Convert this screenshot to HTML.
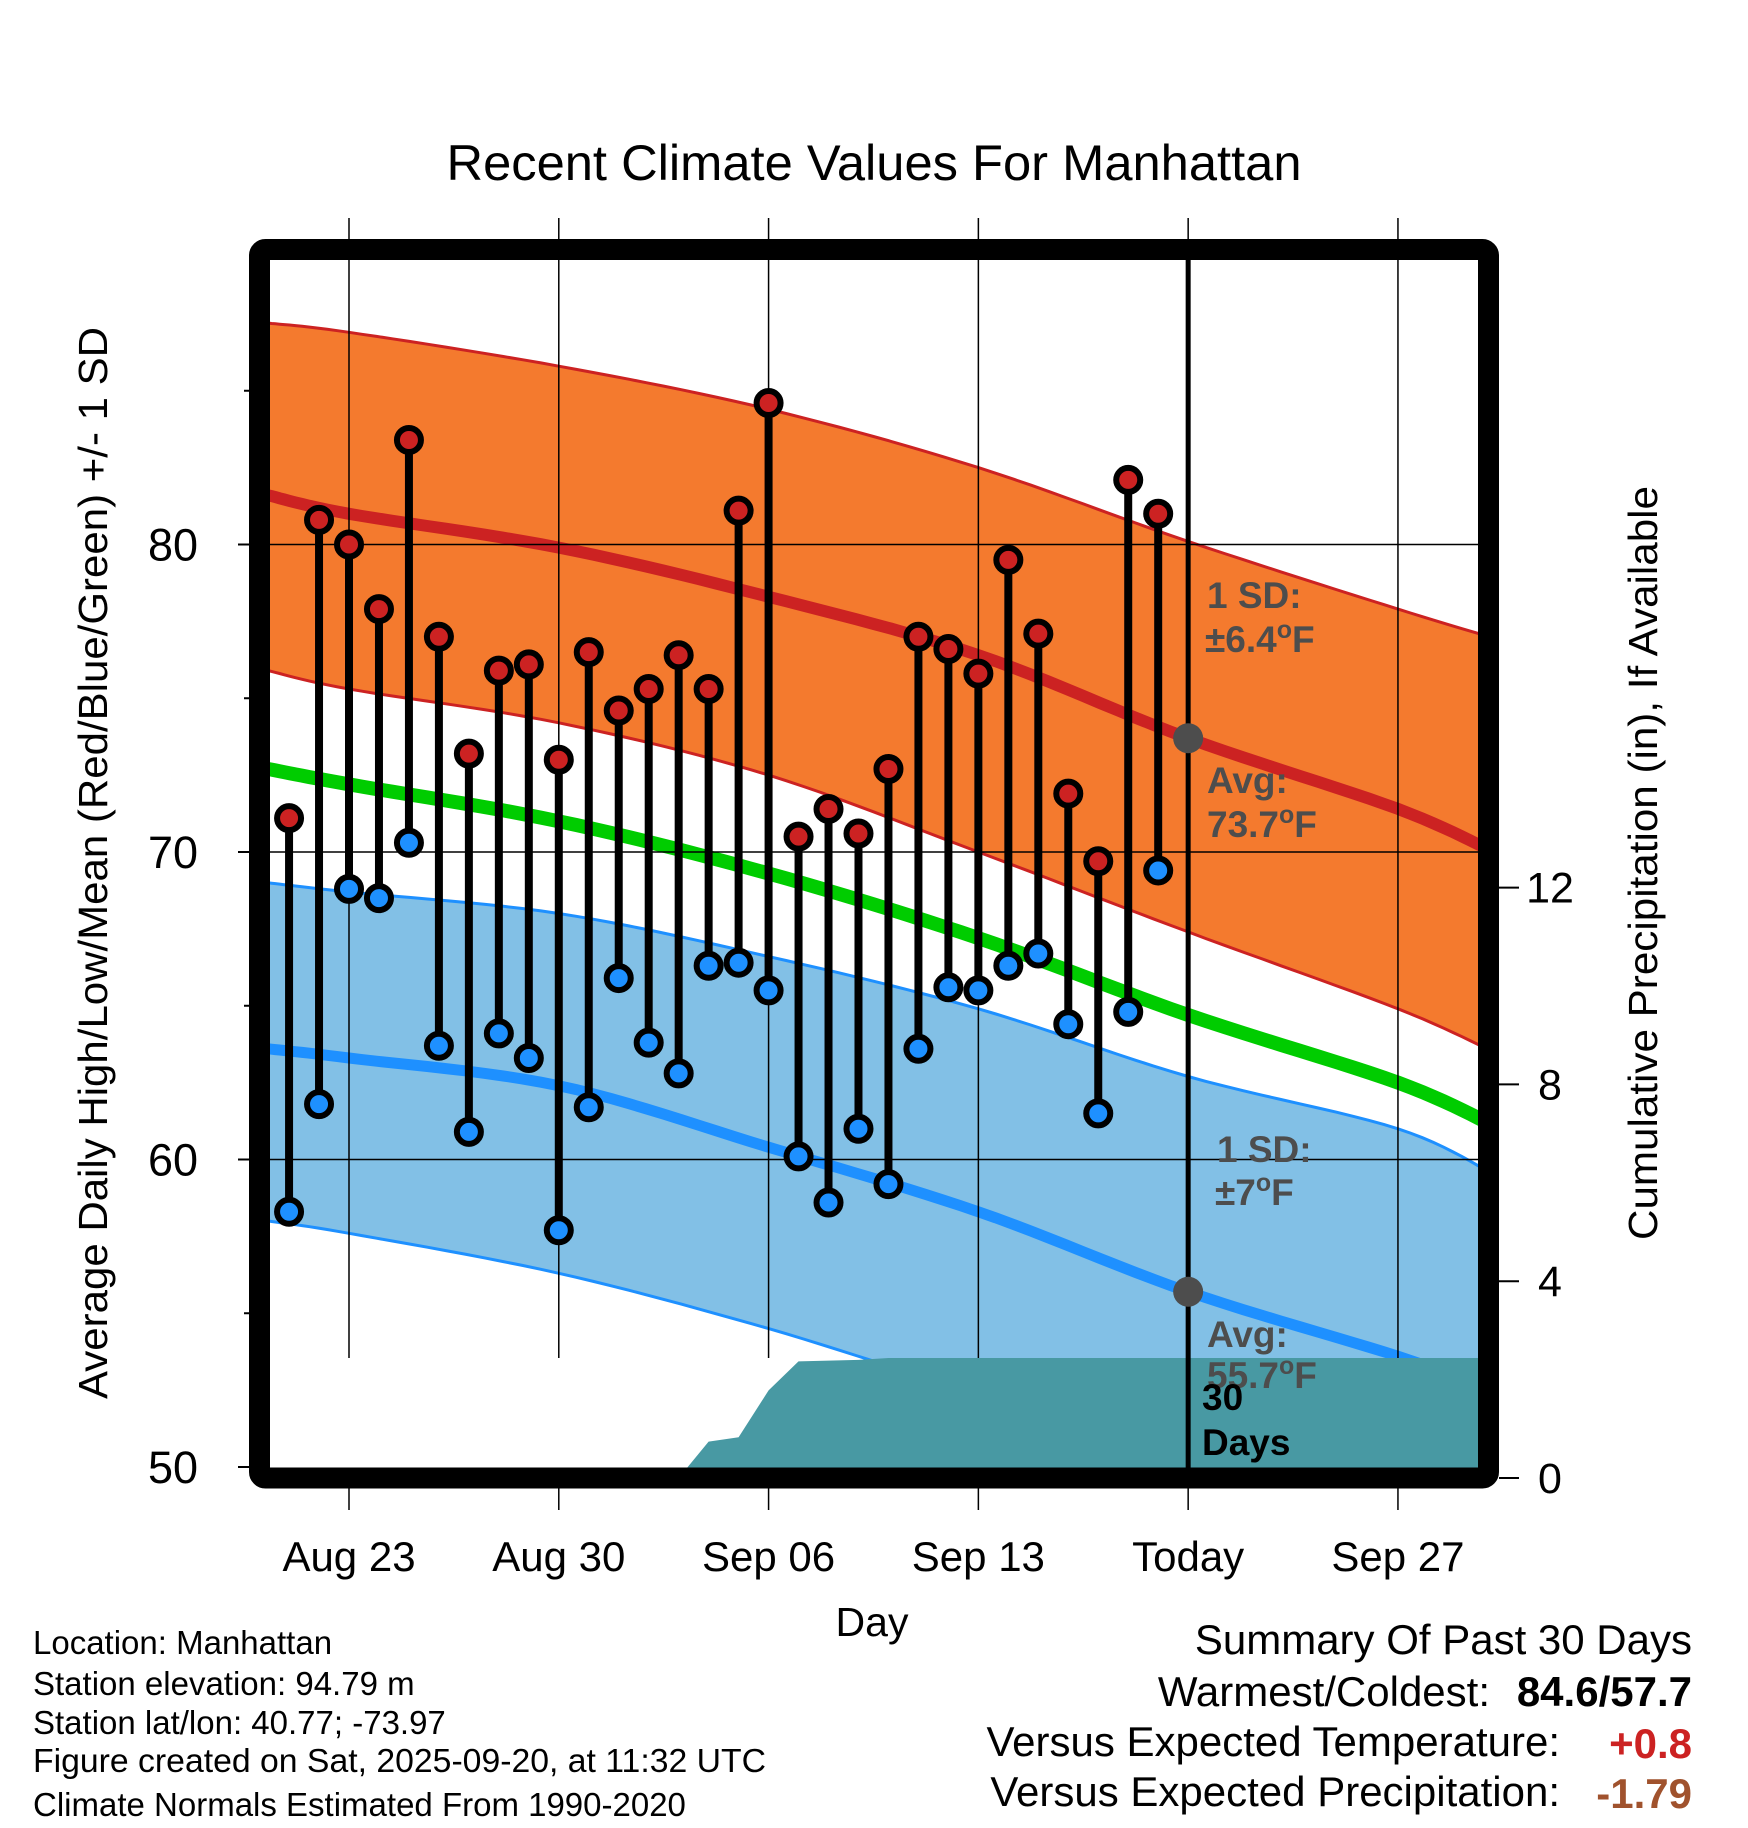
<!DOCTYPE html>
<html><head><meta charset="utf-8"><style>
html,body{margin:0;padding:0;background:#fff;}
svg{display:block;font-family:"Liberation Sans",Arial,sans-serif;}
</style></head><body>
<svg id="chart" width="1748" height="1828" viewBox="0 0 1748 1828" xmlns="http://www.w3.org/2000/svg">
<defs><clipPath id="plotclip"><rect x="270" y="260" width="1208" height="1208"/></clipPath></defs>
<text x="874" y="180" font-size="50" text-anchor="middle" textLength="855" lengthAdjust="spacingAndGlyphs">Recent Climate Values For Manhattan</text>
<g id="plot" clip-path="url(#plotclip)"></g>
<g id="over"></g>
</svg>
<script>
// ---- data ----
const dayLabels = ["Aug 23","Aug 30","Sep 06","Sep 13","Today","Sep 27"];
const dayTicks = [0,7,14,21,28,35]; // days from Aug 23
const obsDays = [-2,-1,0,1,2,3,4,5,6,7,8,9,10,11,12,13,14,15,16,17,18,19,20,21,22,23,24,25,26,27];
const highs = [71.1,80.8,80.0,77.9,83.4,77.0,73.2,75.9,76.1,73.0,76.5,74.6,75.3,76.4,75.3,81.1,84.6,70.5,71.4,70.6,72.7,77.0,76.6,75.8,79.5,77.1,71.9,69.7,82.1,81.0];
const lows = [58.3,61.8,68.8,68.5,70.3,63.7,60.9,64.1,63.3,57.7,61.7,65.9,63.8,62.8,66.3,66.4,65.5,60.1,58.6,61.0,59.2,63.6,65.6,65.5,66.3,66.7,64.4,61.5,64.8,69.4];
const normDays = [-2.7,0,7,14,21,28,35,38.4];
const hiUpper = [87.2,86.9,85.8,84.4,82.5,80.1,77.9,76.9];
const hiMean = [81.6,81.0,79.9,78.3,76.4,73.7,71.4,69.9];
const hiLower = [75.9,75.3,74.2,72.5,70.0,67.4,64.9,63.4];
const meanNorm = [72.7,72.2,71.0,69.3,67.2,64.7,62.5,61.0];
const loUpper = [69.0,68.7,68.0,66.6,64.9,62.7,61.0,59.4];
const loMean = [63.6,63.3,62.4,60.4,58.3,55.7,53.6,52.4];
const loLower = [58.0,57.6,56.3,54.5,52.4,50.7,49.4,48.8];
const precipDays = [-2.7,11,12,13,14,15,17,18,38.4];
const precipCum = [0,0,0.74,0.83,1.78,2.37,2.40,2.44,2.44];
const yTicks = [50,60,70,80];
const yMinor = [55,65,75,85];
const pTicks = [0,4,8,12];
// ---- scales ----
const X = d => 349 + d*29.97;
const Y = v => 1467 - (v-50)*30.75;
const YP = p => 1478 - p*49.2;
const NS="http://www.w3.org/2000/svg";
function mk(tag, parent, attrs){const e=document.createElementNS(NS,tag);for(const k in attrs)e.setAttribute(k,attrs[k]);parent.appendChild(e);return e;}
const plot=document.getElementById('plot'), over=document.getElementById('over');
// smooth (Catmull-Rom) sampling through the normal curve values
function smooth(days, vals){
  const P=days.map((d,i)=>[X(d),Y(vals[i])]);
  const out=[];
  for(let i=0;i<P.length-1;i++){
    const p0=P[Math.max(0,i-1)],p1=P[i],p2=P[i+1],p3=P[Math.min(P.length-1,i+2)];
    for(let k=0;k<12;k++){
      const t=k/12,t2=t*t,t3=t2*t;
      const f=(a,b,c,d)=>0.5*((2*b)+(-a+c)*t+(2*a-5*b+4*c-d)*t2+(-a+3*b-3*c+d)*t3);
      out.push(f(p0[0],p1[0],p2[0],p3[0]).toFixed(1)+','+f(p0[1],p1[1],p2[1],p3[1]).toFixed(1));
    }
  }
  const L=P[P.length-1];out.push(L[0].toFixed(1)+','+L[1].toFixed(1));
  return out;
}
function band(up,lo){return smooth(normDays,up).concat(smooth(normDays,lo).reverse()).join(' ');}
let e;
e=mk('polygon',plot,{points:band(hiUpper,hiLower),fill:'#f47a2e',stroke:'#cc2222','stroke-width':3});


e=mk('polygon',plot,{points:band(loUpper,loLower),fill:'#82c0e6',stroke:'#1e90ff','stroke-width':3});


e=mk('polyline',plot,{points:smooth(normDays,hiMean).join(' '),fill:'none',stroke:'#cc2222','stroke-width':12});


e=mk('polyline',plot,{points:smooth(normDays,meanNorm).join(' '),fill:'none',stroke:'#00cc00','stroke-width':14});


e=mk('polyline',plot,{points:smooth(normDays,loMean).join(' '),fill:'none',stroke:'#1e90ff','stroke-width':11});


// precip
let pp=precipDays.map((d,i)=>X(d).toFixed(1)+','+YP(precipCum[i]).toFixed(1));
pp.push(X(precipDays[precipDays.length-1]).toFixed(1)+','+YP(0));
pp.push(X(precipDays[0]).toFixed(1)+','+YP(0));
e=mk('polygon',plot,{points:pp.join(' '),fill:'#4899a3'});


// grid
const topP = YP(precipCum[precipCum.length-1]);
yTicks.slice(1).forEach(v=>{
  const g=mk('line',over,{x1:270,x2:1478,y1:Y(v),y2:Y(v),stroke:'#000','stroke-width':1.5});
  
  
});
dayTicks.forEach((d,i)=>{
  const isToday = dayLabels[i]==='Today';
  const g=mk('line',over,{x1:X(d),x2:X(d),y1:isToday?260:218,y2:isToday?1468:topP,stroke:'#000','stroke-width':isToday?5:1.5});
  
  
  if(isToday){
    const g2=mk('line',over,{x1:X(d),x2:X(d),y1:218,y2:250,stroke:'#000','stroke-width':1.5});
    
    
  }
  const t=mk('line',over,{x1:X(d),x2:X(d),y1:1480,y2:1510,stroke:'#000','stroke-width':1.5});
  
  
  const l=mk('text',over,{x:X(d),y:1571,'font-size':42,'text-anchor':'middle'});
  l.textContent=dayLabels[i];
  
  
});
obsDays.forEach((d,i)=>{
  const s=mk('line',over,{x1:X(d),x2:X(d),y1:Y(highs[i]),y2:Y(lows[i]),stroke:'#000','stroke-width':8});
  
  
});
obsDays.forEach((d,i)=>{
  const h=mk('circle',over,{cx:X(d),cy:Y(highs[i]),r:12,fill:'#cc2222',stroke:'#000','stroke-width':6});
  
  
  const l=mk('circle',over,{cx:X(d),cy:Y(lows[i]),r:12,fill:'#1e90ff',stroke:'#000','stroke-width':6});
  
  
});
e=mk('circle',over,{cx:X(28),cy:Y(hiMean[5]),r:15,fill:'#4d4d4d'});


e=mk('circle',over,{cx:X(28),cy:Y(loMean[5]),r:15,fill:'#4d4d4d'});


e=mk('rect',over,{x:259.5,y:249.5,width:1229,height:1228.5,fill:'none',stroke:'#000','stroke-width':21,rx:6});


yTicks.forEach(v=>{
  const t=mk('line',over,{x1:238,x2:250,y1:Y(v),y2:Y(v),stroke:'#000','stroke-width':2});
  
  
  const l=mk('text',over,{x:198,y:Y(v)+16,'font-size':45,'text-anchor':'end'});
  l.textContent=v;
  
  
});
yMinor.forEach(v=>{
  const t=mk('line',over,{x1:244,x2:250,y1:Y(v),y2:Y(v),stroke:'#000','stroke-width':2});
  
  
});
pTicks.forEach(p=>{
  const t=mk('line',over,{x1:1499,x2:1519,y1:YP(p),y2:YP(p),stroke:'#000','stroke-width':2});
  
  
  const l=mk('text',over,{x:1550,y:YP(p)+15,'font-size':43,'text-anchor':'middle'});
  l.textContent=p;
  
  
});
</script>
<svg style="position:absolute;left:0;top:0" width="1748" height="1828" font-family="Liberation Sans, Arial, sans-serif">
<text transform="translate(107,863) rotate(-90)" font-size="41" text-anchor="middle" textLength="1072" lengthAdjust="spacingAndGlyphs">Average Daily High/Low/Mean (Red/Blue/Green) +/- 1 SD</text>
<text transform="translate(1657,863) rotate(-90)" font-size="41" text-anchor="middle" textLength="754" lengthAdjust="spacingAndGlyphs">Cumulative Precipitation (in), If Available</text>
<text x="872" y="1636" font-size="41" text-anchor="middle">Day</text>
<g font-weight="bold" font-size="37" fill="#4d4d4d">
<text x="1207" y="608">1 SD:</text>
<text x="1205" y="652">±6.4<tspan font-size="25" dy="-14">o</tspan><tspan dy="14">F</tspan></text>
<text x="1207" y="793">Avg:</text>
<text x="1207" y="837">73.7<tspan font-size="25" dy="-14">o</tspan><tspan dy="14">F</tspan></text>
<text x="1217" y="1162">1 SD:</text>
<text x="1215" y="1205">±7<tspan font-size="25" dy="-14">o</tspan><tspan dy="14">F</tspan></text>
<text x="1207" y="1347">Avg:</text>
<text x="1207" y="1388">55.7<tspan font-size="25" dy="-14">o</tspan><tspan dy="14">F</tspan></text>
<text x="1202" y="1410" fill="#000">30</text>
<text x="1202" y="1455" fill="#000">Days</text>
</g>
<g font-size="33">
<text x="33" y="1654">Location: Manhattan</text>
<text x="33" y="1695">Station elevation: 94.79 m</text>
<text x="33" y="1734">Station lat/lon: 40.77; -73.97</text>
<text x="33" y="1772" textLength="733" lengthAdjust="spacingAndGlyphs">Figure created on Sat, 2025-09-20, at 11:32 UTC</text>
<text x="33" y="1816">Climate Normals Estimated From 1990-2020</text>
</g>
<g font-size="42" text-anchor="end">
<text x="1692" y="1654">Summary Of Past 30 Days</text>
<text x="1490" y="1706">Warmest/Coldest:</text>
<text x="1692" y="1706" font-weight="bold">84.6/57.7</text>
<text x="1560" y="1756">Versus Expected Temperature:</text>
<text x="1692" y="1758" font-weight="bold" fill="#cc2222">+0.8</text>
<text x="1560" y="1806">Versus Expected Precipitation:</text>
<text x="1692" y="1808" font-weight="bold" fill="#a0522d">-1.79</text>
</g>
</svg>
</body></html>
